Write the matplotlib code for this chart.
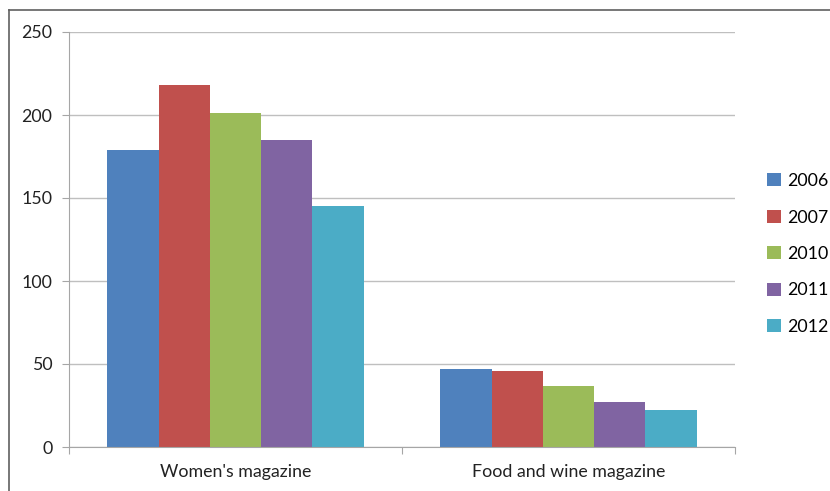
import numpy as np
import matplotlib.pyplot as plt
from matplotlib.lines import Line2D

categories = ["Women's magazine", "Food and wine magazine"]
years = ["2006", "2007", "2010", "2011", "2012"]
values = {
    "2006": [179, 47],
    "2007": [218, 46],
    "2010": [201, 37],
    "2011": [185, 27],
    "2012": [145, 22],
}
colors = ["#4F81BD", "#C0504D", "#9BBB59", "#8064A2", "#4BACC6"]

plt.rcParams['font.family'] = ['Lato', 'DejaVu Sans']

fig = plt.figure(figsize=(8.3, 4.91), dpi=100)
ax = fig.add_axes([69 / 830, 1 - 447 / 491, (735 - 69) / 830, (447 - 32) / 491])

x = np.arange(len(categories))
group_w = 0.77
bar_w = group_w / len(years)
for i, (yr, c) in enumerate(zip(years, colors)):
    offset = -group_w / 2 + bar_w * (i + 0.5)
    ax.bar(x + offset, values[yr], width=bar_w, color=c, label=yr, zorder=2)

ax.set_xlim(-0.5, 1.5)
ax.set_ylim(0, 250)
ax.set_yticks(np.arange(0, 251, 50))
ax.yaxis.grid(True, color="#BFBFBF", linewidth=1, zorder=0)

# category boundary ticks, labels centred under groups
ax.set_xticks([-0.5, 0.5, 1.5])
ax.set_xticklabels([])
ax.set_xticks(x, minor=True)
ax.set_xticklabels(categories, minor=True)
ax.tick_params(axis='x', which='minor', length=0, pad=12, labelsize=12.8, colors="#222222")
ax.tick_params(axis='x', which='major', length=5, color="#A6A6A6", direction='out')
ax.tick_params(axis='y', length=5, color="#A6A6A6", direction='out', labelsize=12.8,
               labelcolor="#222222", pad=7)

for s in ['top', 'right']:
    ax.spines[s].set_visible(False)
for s in ['left', 'bottom']:
    ax.spines[s].set_color("#A6A6A6")

ax.legend(loc='center left', bbox_to_anchor=(1.035, 0.465), frameon=False,
          fontsize=12.8, handlelength=0.75, handleheight=0.75, handletextpad=0.35,
          labelspacing=1.15, borderpad=0)

# outer chart border
fig.add_artist(Line2D([9 / 830, 9 / 830], [0, 1 - 10 / 491], color="#606060", lw=1.2))
fig.add_artist(Line2D([9 / 830, 1], [1 - 10 / 491, 1 - 10 / 491], color="#606060", lw=1.2))

fig.savefig("out.png", dpi=100)
